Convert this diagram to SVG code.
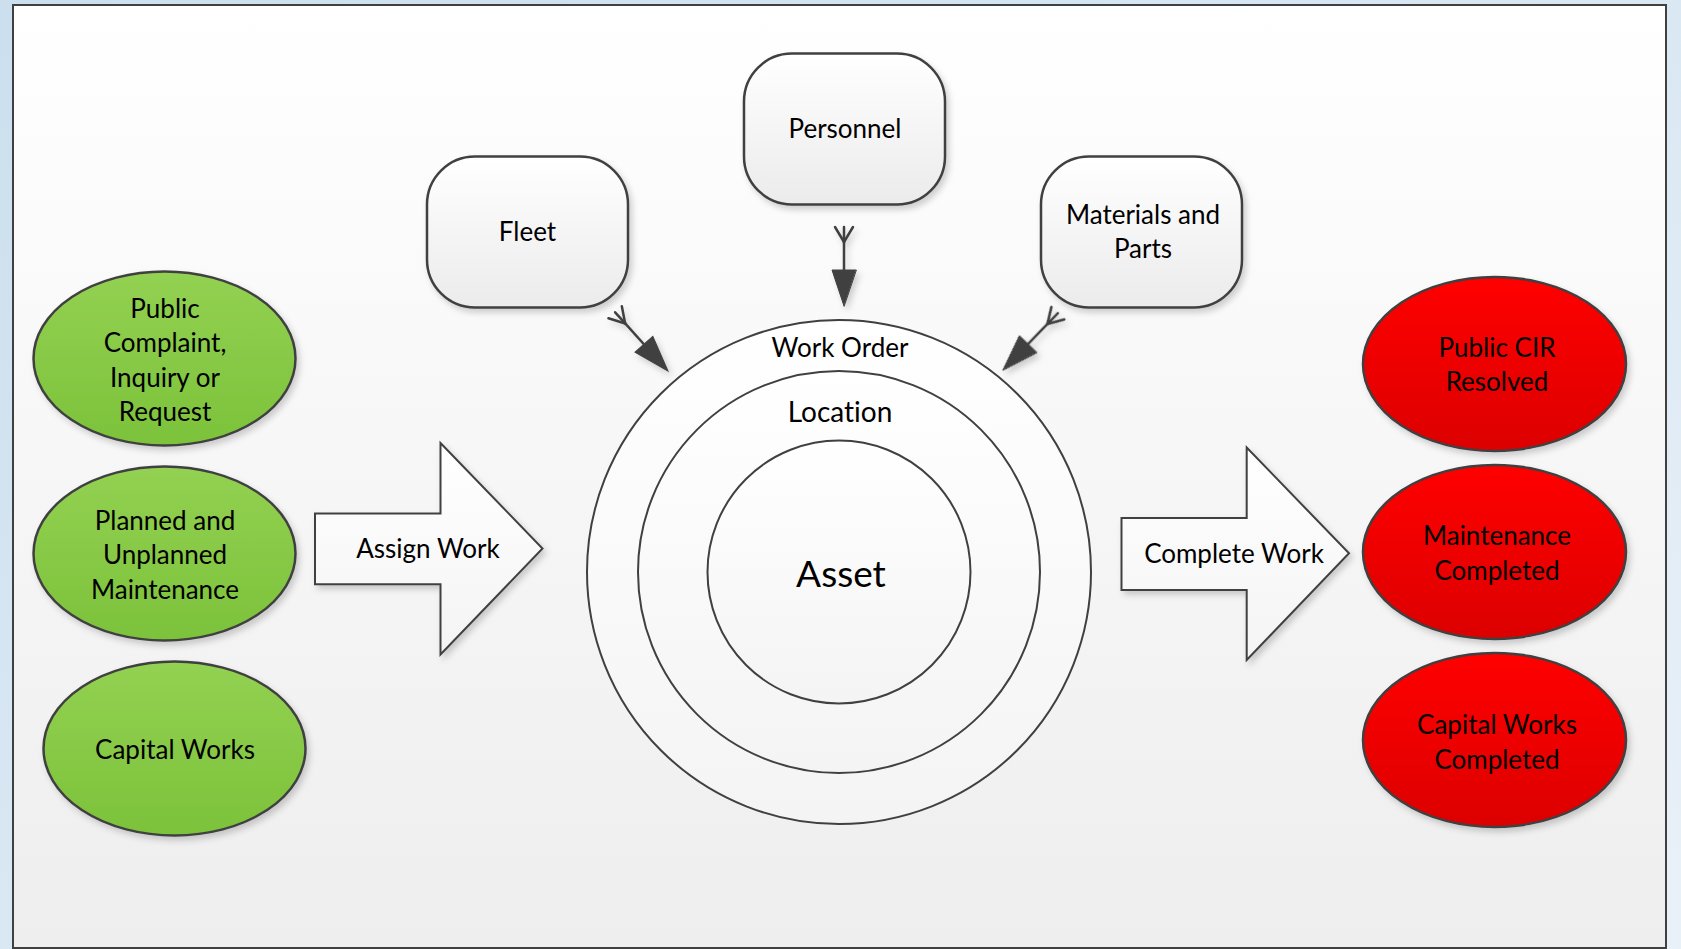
<svg xmlns="http://www.w3.org/2000/svg" width="1681" height="949" viewBox="0 0 1681 949">
<defs>
<linearGradient id="pageBg" x1="0" y1="0" x2="1" y2="1">
<stop offset="0" stop-color="#cbdfee"/>
<stop offset="1" stop-color="#e9f1f8"/>
</linearGradient>
<linearGradient id="frameBg" x1="0" y1="0" x2="0" y2="1">
<stop offset="0" stop-color="#ffffff"/>
<stop offset="1" stop-color="#eeeeee"/>
</linearGradient>
<linearGradient id="boxFill" x1="0" y1="0" x2="0" y2="1">
<stop offset="0" stop-color="#ffffff"/>
<stop offset="1" stop-color="#ebebeb"/>
</linearGradient>
<linearGradient id="circFill" x1="0" y1="0" x2="0" y2="1">
<stop offset="0" stop-color="#ffffff"/>
<stop offset="1" stop-color="#f4f4f4"/>
</linearGradient>
<linearGradient id="greenFill" x1="0" y1="0" x2="0" y2="1">
<stop offset="0" stop-color="#93d152"/>
<stop offset="1" stop-color="#7cc23a"/>
</linearGradient>
<linearGradient id="redFill" x1="0" y1="0" x2="0" y2="1">
<stop offset="0" stop-color="#ff0000"/>
<stop offset="1" stop-color="#dc0000"/>
</linearGradient>
<filter id="shadow" x="-20%" y="-20%" width="140%" height="140%">
<feDropShadow dx="3" dy="4" stdDeviation="3" flood-color="#000" flood-opacity="0.18"/>
</filter>
<g id="feather">
<line x1="0" y1="-64" x2="-9" y2="-79"/>
<line x1="0" y1="-64" x2="0" y2="-79"/>
<line x1="0" y1="-64" x2="9" y2="-79"/>
<line x1="0" y1="-64" x2="0" y2="-34"/>
<polygon points="0,0 -12,-36 12,-36" fill="#404040" stroke="#404040" stroke-width="1"/>
</g>
</defs>
<style>
.lbl { font-family: Lato, "Open Sans", "Liberation Sans", sans-serif; font-size: 26px; fill: #000; text-anchor: middle; font-variant-ligatures: none; }
.mid { font-size: 28px; }
.big { font-size: 37px; }
.box { fill: url(#boxFill); stroke: #404040; stroke-width: 2.5; filter: url(#shadow); }
.circ { fill: url(#circFill); stroke: #404040; stroke-width: 2; }
.green { fill: url(#greenFill); stroke: #404040; stroke-width: 2.5; filter: url(#shadow); }
.red { fill: url(#redFill); stroke: #404040; stroke-width: 2.5; filter: url(#shadow); }
.bigarrow { fill: url(#circFill); stroke: #404040; stroke-width: 2; filter: url(#shadow); }
.conn { stroke: #404040; stroke-width: 2.5; fill: none; stroke-linecap: round; filter: url(#shadow); }
</style>

<rect x="0" y="0" width="1681" height="949" fill="url(#pageBg)"/>
<rect x="13" y="5" width="1653" height="943" fill="url(#frameBg)" stroke="#404040" stroke-width="2"/>

<g id="work-order">
<circle class="circ" cx="839" cy="572" r="252"/>
<text class="lbl" x="840" y="357">Work Order</text>
</g>
<g id="location">
<circle class="circ" cx="839" cy="572" r="201"/>
<text class="lbl mid" x="840" y="422">Location</text>
</g>
<g id="asset">
<circle class="circ" cx="839" cy="572" r="131.5"/>
<text class="lbl big" x="841" y="587">Asset</text>
</g>

<g id="fleet">
<rect class="box" x="427" y="156.5" width="201" height="151" rx="48"/>
<text class="lbl" x="527.5" y="241">Fleet</text>
</g>
<g id="personnel">
<rect class="box" x="744" y="53.5" width="201" height="151" rx="48"/>
<text class="lbl" x="845" y="138">Personnel</text>
</g>
<g id="materials">
<rect class="box" x="1041" y="156.5" width="201" height="151" rx="48"/>
<text class="lbl" x="1143" y="223.5">Materials and</text>
<text class="lbl" x="1143" y="258">Parts</text>
</g>

<g id="public-complaint">
<ellipse class="green" cx="164.5" cy="358.5" rx="131" ry="87"/>
<text class="lbl" x="165" y="318">Public</text>
<text class="lbl" x="165" y="352.3">Complaint,</text>
<text class="lbl" x="165" y="386.6">Inquiry or</text>
<text class="lbl" x="165" y="420.9">Request</text>
</g>
<g id="planned-maintenance">
<ellipse class="green" cx="164.5" cy="553.5" rx="131" ry="87"/>
<text class="lbl" x="165" y="530">Planned and</text>
<text class="lbl" x="165" y="564.3">Unplanned</text>
<text class="lbl" x="165" y="598.6">Maintenance</text>
</g>
<g id="capital-works">
<ellipse class="green" cx="174.5" cy="748.5" rx="131" ry="87"/>
<text class="lbl" x="175" y="758.5">Capital Works</text>
</g>

<g id="cir-resolved">
<ellipse class="red" cx="1494.5" cy="364" rx="131.5" ry="87"/>
<text class="lbl" x="1497" y="356.5">Public CIR</text>
<text class="lbl" x="1497" y="391">Resolved</text>
</g>
<g id="maintenance-completed">
<ellipse class="red" cx="1494.5" cy="552" rx="131.5" ry="87"/>
<text class="lbl" x="1497" y="545">Maintenance</text>
<text class="lbl" x="1497" y="579.5">Completed</text>
</g>
<g id="capital-completed">
<ellipse class="red" cx="1494.5" cy="740" rx="131.5" ry="87"/>
<text class="lbl" x="1497" y="734">Capital Works</text>
<text class="lbl" x="1497" y="768.5">Completed</text>
</g>

<g id="assign-work">
<polygon class="bigarrow" points="315,513.5 440.5,513.5 440.5,443 542.5,548.5 440.5,654.5 440.5,584.3 315,584.3"/>
<text class="lbl" x="428" y="557.5">Assign Work</text>
</g>
<g id="complete-work">
<polygon class="bigarrow" points="1121.5,518 1246.7,518 1246.7,447.5 1349,553.3 1246.7,660 1246.7,590 1121.5,590"/>
<text class="lbl" x="1234" y="563">Complete Work</text>
</g>

<g id="connectors" class="conn">
<use href="#feather" transform="translate(668,371) rotate(-42)"/>
<use href="#feather" transform="translate(844,306)"/>
<use href="#feather" transform="translate(1003,370) rotate(44)"/>
</g>
</svg>
